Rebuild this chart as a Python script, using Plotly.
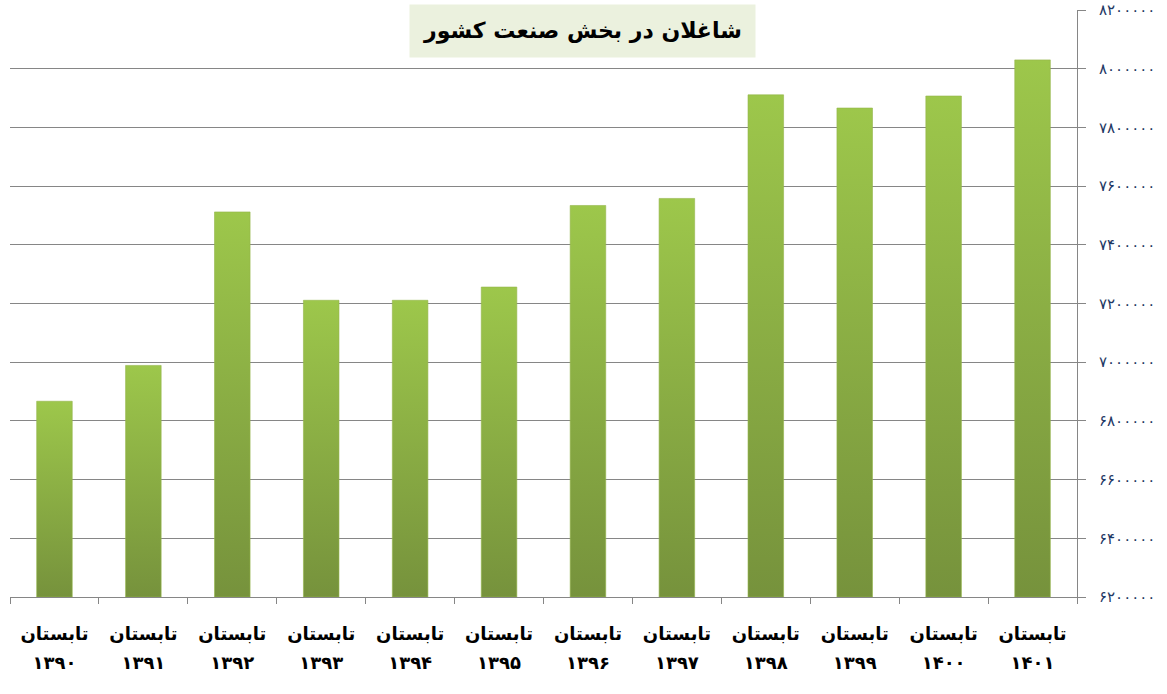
import plotly.graph_objects as go

# داده ها
years = [1390, 1391, 1392, 1393, 1394, 1395, 1396, 1397, 1398, 1399, 1400, 1401]
shaghelan = [6867000, 6989000, 7512000, 7211000, 7211000, 7256000,
             7534000, 7558000, 7911000, 7866000, 7907000, 8030000]
y_ticks = [6200000, 6400000, 6600000, 6800000, 7000000, 7200000,
           7400000, 7600000, 7800000, 8000000, 8200000]

fa_digits = str.maketrans("0123456789", "۰۱۲۳۴۵۶۷۸۹")


def fa(n):
    return str(n).translate(fa_digits)


season_labels = ["<b>تابستان</b>" for y in years]
year_labels = ["<b>" + fa(y) + "</b>" for y in years]
y_labels = [fa(v) for v in y_ticks]

base = y_ticks[0]
half_w = 0.2
cats = list(range(len(years)))

fig = go.Figure()

# هر ستون با گرادیان جداگانه
for i, v in enumerate(shaghelan):
    fig.add_trace(go.Scatter(
        x=[i - half_w, i - half_w, i + half_w, i + half_w, i - half_w],
        y=[base, v, v, base, base],
        mode="lines",
        fill="toself",
        fillgradient=dict(type="vertical",
                          colorscale=[[0, "#76923C"], [1, "#9DC74B"]]),
        line=dict(width=0.6, color="#93B64A"),
        hoverinfo="text",
        hovertext=f"{fa(years[i])}: {fa(v)}",
        showlegend=False,
    ))

# محورهای کمکی: تیک های مرزی و سال ها
fig.add_trace(go.Scatter(x=[-0.5, 11.5], y=[None, None], xaxis="x2",
                         showlegend=False, hoverinfo="skip"))
fig.add_trace(go.Scatter(x=[-0.5, 11.5], y=[None, None], xaxis="x3",
                         showlegend=False, hoverinfo="skip"))

xfont = dict(size=18, color="black", family="DejaVu Sans")

fig.update_layout(
    width=1167, height=694,
    paper_bgcolor="white", plot_bgcolor="white",
    margin=dict(l=10, r=90, t=10, b=97, autoexpand=False),
    font=dict(family="DejaVu Sans"),
    xaxis=dict(
        range=[-0.5, 11.5],
        tickvals=cats,
        ticktext=season_labels,
        ticks="",
        showgrid=False,
        zeroline=False,
        automargin=False,
        showline=True, linecolor="#868686", linewidth=1,
        tickfont=xfont,
        ticklabelstandoff=20,
    ),
    xaxis2=dict(
        range=[-0.5, 11.5],
        overlaying="x",
        side="bottom",
        tickvals=[k - 0.5 for k in range(len(years) + 1)],
        ticks="outside", ticklen=6, tickcolor="#868686",
        showticklabels=False,
        automargin=False,
        showgrid=False, zeroline=False,
    ),
    xaxis3=dict(
        range=[-0.5, 11.5],
        overlaying="x",
        side="bottom",
        tickvals=cats,
        ticktext=year_labels,
        ticks="",
        tickfont=xfont,
        ticklabelstandoff=53,
        automargin=False,
        showgrid=False, zeroline=False,
    ),
    yaxis=dict(
        side="right",
        range=[y_ticks[0], y_ticks[-1]],
        tickvals=y_ticks,
        ticktext=y_labels,
        showgrid=True, gridcolor="#868686", gridwidth=1,
        zeroline=False,
        automargin=False,
        ticklabeloverflow="allow",
        showline=True, linecolor="#868686", linewidth=1,
        ticks="outside", ticklen=8, tickcolor="#868686",
        tickfont=dict(size=15, color="#1F3864", family="DejaVu Sans"),
        ticklabelstandoff=10,
    ),
    annotations=[dict(
        text="<b>شاغلان در بخش صنعت کشور</b>",
        xref="paper", yref="paper",
        x=0.537, y=1.0, yanchor="middle",
        yshift=-21,
        showarrow=False,
        font=dict(size=22, color="black", family="DejaVu Sans"),
        bgcolor="#EBF1DE",
        borderpad=13,
    )],
)

# حذف حاشیه پیش فرض صفحه و نوار ابزار
fig.write_html("out.html", config={"displayModeBar": False},
               post_script="document.body.style.margin='0';")
